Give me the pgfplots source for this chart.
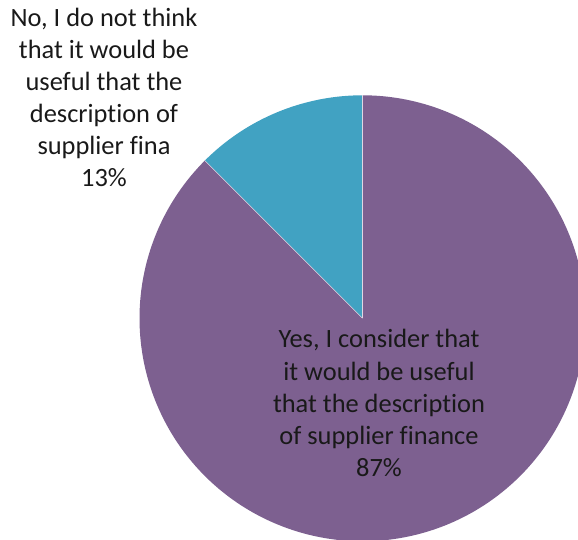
\documentclass[border=0pt]{standalone}
\usepackage{pgfplots}
\pgfplotsset{compat=1.18}
\usepackage{fontspec}
\setmainfont[Ligatures=NoCommon]{Carlito}
\definecolor{slicepurple}{HTML}{7D6090}
\definecolor{sliceblue}{HTML}{41A2C2}
\begin{document}
\begin{tikzpicture}
\begin{axis}[
  name=ax,
  width=578bp, height=540bp, scale only axis,
  xmin=0, xmax=578, ymin=0, ymax=540,
  hide axis, clip=true,
]
% data: No = 12.5 (label 13%), Yes = 87.5 (label 87%)
\def\pcx{362.5}\def\pcy{221.7}\def\prad{223}
\def\vNo{12.5}\def\vYes{87.5}
\addplot[fill=sliceblue, draw=none, domain=90:{90+3.6*\vNo}, samples=80]
  ({\pcx+\prad*cos(x)},{\pcy+\prad*sin(x)}) -- (axis cs:\pcx,\pcy) -- cycle;
\addplot[fill=slicepurple, draw=none, domain={90+3.6*\vNo}:{90+3.6*(\vNo+\vYes)}, samples=300]
  ({\pcx+\prad*cos(x)},{\pcy+\prad*sin(x)}) -- (axis cs:\pcx,\pcy) -- cycle;
\addplot[draw=white!75!slicepurple, line width=0.5bp] coordinates {(362.5,444.7) (362.5,221.7)};
\addplot[draw=white!75!slicepurple, line width=0.5bp] coordinates {(204.8,379.4) (362.5,221.7)};
\begin{scope}[every node/.style={anchor=base, inner sep=0pt, font=\fontsize{26.5}{32}\selectfont, text=black!90}]
\node at (axis cs:104,513) {No, I do not think};
\node at (axis cs:104,481) {that it would be};
\node at (axis cs:104,449) {useful that the};
\node at (axis cs:104,417) {description of};
\node at (axis cs:104,385) {supplier fina};
\node at (axis cs:104,353) {13\%};
\node at (axis cs:379,192) {Yes, I consider that};
\node at (axis cs:379,159.5) {it would be useful};
\node at (axis cs:379,127) {that the description};
\node at (axis cs:379,95) {of supplier finance};
\node at (axis cs:379,63) {87\%};
\end{scope}
\end{axis}
\pgfresetboundingbox
\path[use as bounding box] (ax.south west) rectangle (ax.north east);
\end{tikzpicture}
\end{document}
